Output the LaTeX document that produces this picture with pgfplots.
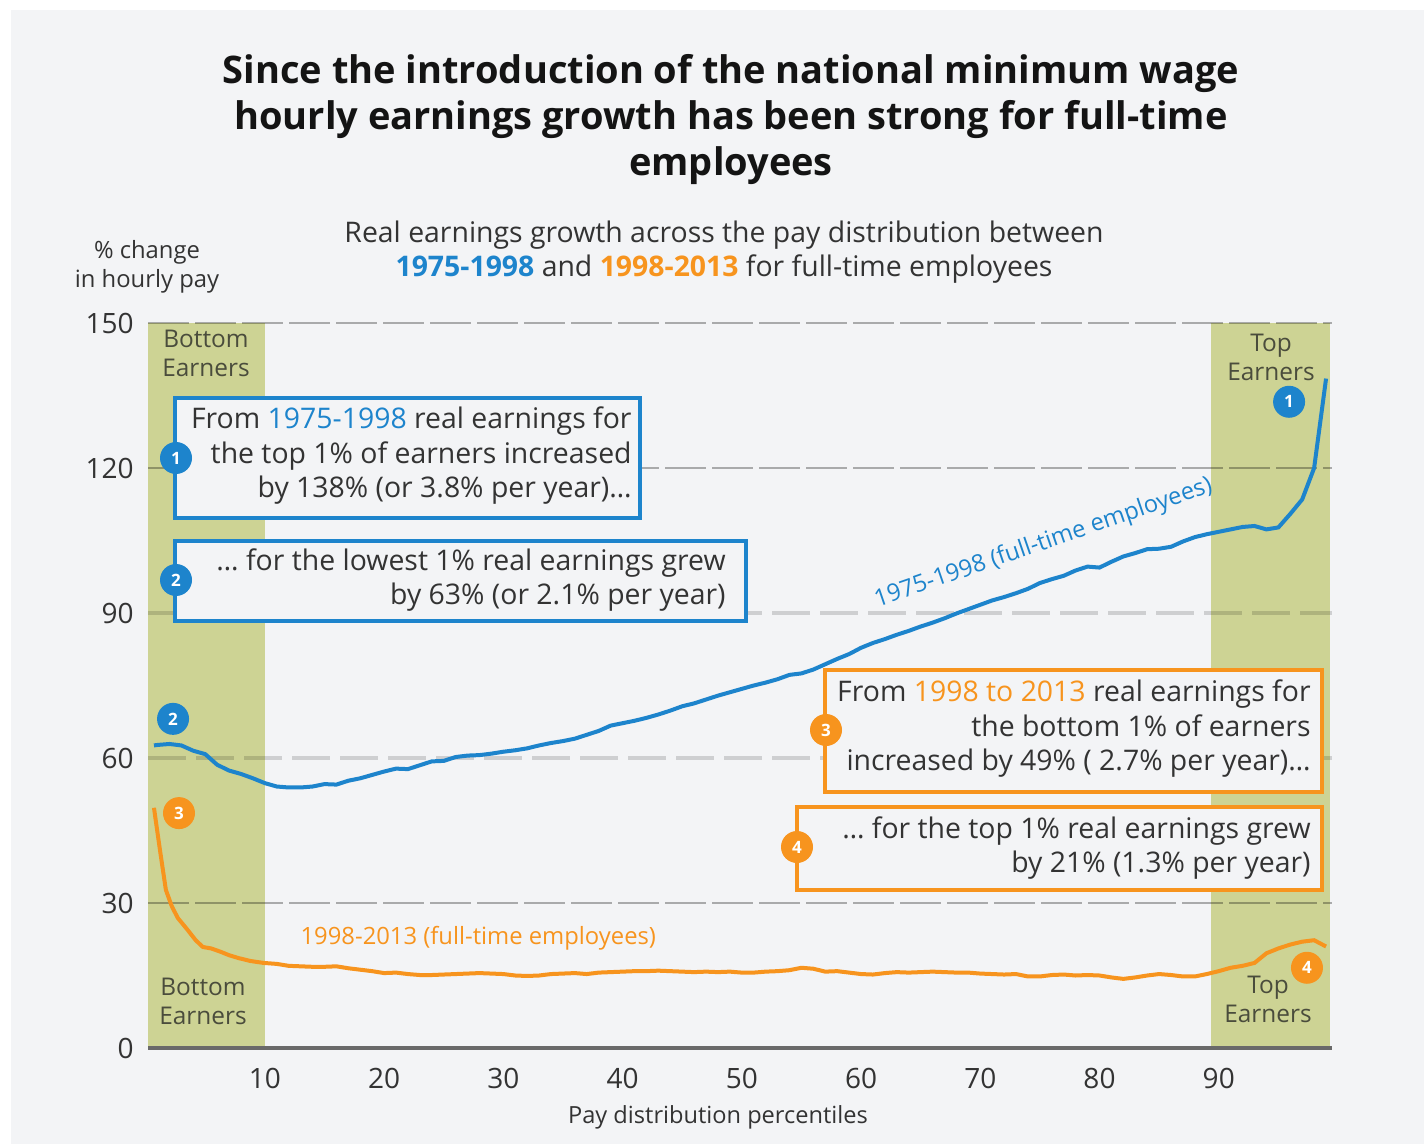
\documentclass[border=0pt]{standalone}
\usepackage{pgfplots}
\pgfplotsset{compat=1.18}
\usepackage{fontspec}
\setmainfont{Open Sans}
\definecolor{bg}{RGB}{243,244,246}
\definecolor{ublue}{RGB}{29,132,204}
\definecolor{uorange}{RGB}{247,148,30}
\definecolor{band}{RGB}{205,211,148}
\definecolor{txt}{RGB}{51,51,51}
\definecolor{bandtxt}{RGB}{74,76,60}
\definecolor{axisgray}{RGB}{105,105,105}
\newcommand{\fsz}[2]{\fontsize{#1}{#2}\selectfont}

\begin{document}
\begin{tikzpicture}[x=0.5pt,y=-0.5pt]
\fill[white] (0,0) rectangle (1424,1144);
\fill[bg] (11,10) rectangle (1424,1144);
% highlighted bands (bottom and top earners)
\fill[band] (148,323) rectangle (265,1048);
\fill[band] (1211,323) rectangle (1330,1048);
\coordinate (A) at (148,1048);
% title
\node[align=center, font=\fsz{19}{23}\bfseries, text=black!92] at (731,120)
  {Since the introduction of the national minimum wage\\hourly earnings growth has been strong for full-time\\employees};
\node[align=center, font=\fsz{14.2}{17}, text=txt] at (724,252)
  {Real earnings growth across the pay distribution between\\{\color{ublue}\bfseries 1975-1998} and {\color{uorange}\bfseries 1998-2013} for full-time employees};
\node[align=center, font=\fsz{11.9}{14.5}, text=txt] at (147,267) {\% change\\in hourly pay};

\begin{axis}[
  at={(A)}, anchor=south west, scale only axis,
  width=592pt, height=362.5pt,
  xmin=0.2, xmax=99.5, ymin=0, ymax=150,
  axis lines=left,
  x axis line style={-, draw=axisgray, line width=2.2pt},
  y axis line style={draw=none},
  xtick={10,20,...,90}, xticklabels={10,20,30,40,50,60,70,80,90},
  ytick={0,30,120,150}, yticklabels={0,30,120,150},
  extra y ticks={60,90}, extra y tick labels={60,90},
  extra y tick style={grid style={draw=black, opacity=0.15, line width=2pt, dash pattern=on 19pt off 5pt}},
  major tick length=0pt,
  /pgf/number format/assume math mode=true,
  tick label style={font=\fsz{14}{16}, text=txt},
  yticklabel style={inner sep=0pt, xshift=-7pt},
  xticklabel style={inner sep=0pt, yshift=-10pt},
  ymajorgrids,
  grid style={draw=black, opacity=0.3, line width=1pt, dash pattern=on 20.5pt off 3pt},
  clip=false,
]
\addplot[ublue, line width=2pt] coordinates {
(0.7,62.6) (1,62.7) (2,62.9) (3,62.6) (4,61.5) (5,60.8) (6,58.6) (7,57.4) (8,56.7) (9,55.8)
(10,54.8) (11,54.1) (12,53.9) (13,53.9) (14,54.1) (15,54.6) (16,54.5) (17,55.3) (18,55.8) (19,56.5)
(20,57.2) (21,57.8) (22,57.7) (23,58.5) (24,59.3) (25,59.4) (26,60.2) (27,60.5) (28,60.6) (29,60.9)
(30,61.3) (31,61.6) (32,62.0) (33,62.6) (34,63.1) (35,63.5) (36,64.0) (37,64.8) (38,65.6) (39,66.7)
(40,67.2) (41,67.7) (42,68.3) (43,69.0) (44,69.8) (45,70.7) (46,71.3) (47,72.1) (48,72.9) (49,73.6)
(50,74.3) (51,75.0) (52,75.6) (53,76.3) (54,77.2) (55,77.5) (56,78.3) (57,79.4) (58,80.5) (59,81.5)
(60,82.8) (61,83.8) (62,84.6) (63,85.5) (64,86.3) (65,87.2) (66,88.0) (67,88.9) (68,89.9) (69,90.8)
(70,91.7) (71,92.6) (72,93.3) (73,94.1) (74,95.0) (75,96.2) (76,97.0) (77,97.7) (78,98.8) (79,99.6)
(80,99.4) (81,100.6) (82,101.7) (83,102.4) (84,103.2) (85,103.3) (86,103.7) (87,104.8) (88,105.7) (89,106.3)
(90,106.8) (91,107.3) (92,107.8) (93,108.0) (94,107.3) (95,107.7) (96,110.5) (97,113.5) (98,120.0) (99,138.5)
};
\addplot[uorange, line width=2pt] coordinates {
(0.7,49.7) (1.2,41.0) (1.7,32.7) (2.2,29.3) (2.7,26.9) (3.5,24.5) (4.2,22.3) (4.8,20.9) (5.5,20.6) (6.3,19.9)
(7,19.2) (7.8,18.6) (8.8,18.0) (9.9,17.6) (11,17.4) (12,17.0) (13,16.9) (14,16.8) (15,16.8) (16,16.9)
(17,16.5) (18,16.2) (19,15.9) (20,15.5) (21,15.6) (22,15.3) (23,15.1) (24,15.1) (25,15.2) (26,15.3)
(27,15.4) (28,15.5) (29,15.4) (30,15.3) (31,15.0) (32,14.9) (33,15.0) (34,15.3) (35,15.4) (36,15.5)
(37,15.3) (38,15.6) (39,15.7) (40,15.8) (41,15.9) (42,15.9) (43,16.0) (44,15.9) (45,15.8) (46,15.7)
(47,15.8) (48,15.7) (49,15.8) (50,15.6) (51,15.6) (52,15.8) (53,15.9) (54,16.1) (55,16.6) (56,16.4)
(57,15.8) (58,15.9) (59,15.6) (60,15.3) (61,15.2) (62,15.5) (63,15.7) (64,15.6) (65,15.7) (66,15.8)
(67,15.7) (68,15.6) (69,15.6) (70,15.4) (71,15.3) (72,15.2) (73,15.3) (74,14.8) (75,14.8) (76,15.1)
(77,15.2) (78,15.0) (79,15.1) (80,15.0) (81,14.6) (82,14.3) (83,14.6) (84,15.0) (85,15.3) (86,15.1)
(87,14.8) (88,14.8) (89,15.3) (90,15.9) (91,16.6) (92,17.0) (93,17.6) (94,19.6) (95,20.6) (96,21.4)
(97,22.0) (98,22.3) (99,21.0)
};
\node[rotate=19, text=ublue, font=\fsz{11.9}{14}] at (axis cs:75.3,104.4) {1975-1998 (full-time employees)};
\node[text=uorange, font=\fsz{11.9}{14}] at (axis cs:27.9,22.8) {1998-2013 (full-time employees)};
\tikzset{num/.style={circle, fill=#1, text=white, minimum size=16pt, inner sep=0pt, font=\fsz{8.5}{9}\bfseries}}
\node[num=ublue] at (axis cs:95.9,133.7) {1};
\node[num=ublue] at (axis cs:2.3,68.1) {2};
\node[num=uorange] at (axis cs:2.8,48.6) {3};
\node[num=uorange] at (axis cs:97.4,16.6) {4};
\end{axis}

\tikzset{num/.style={circle, fill=#1, text=white, minimum size=16pt, inner sep=0pt, font=\fsz{8.5}{9}\bfseries}}
% band labels
\node[align=center, font=\fsz{12.2}{14.5}, text=bandtxt] at (206,353) {Bottom\\Earners};
\node[align=center, font=\fsz{12.2}{14.5}, text=bandtxt] at (203,1001) {Bottom\\Earners};
\node[align=center, font=\fsz{12.2}{14.5}, text=bandtxt] at (1271,357) {Top\\Earners};
\node[align=center, font=\fsz{12.2}{14.5}, text=bandtxt] at (1268,999) {Top\\Earners};
% x label
\node[font=\fsz{11.8}{13}, text=txt] at (718,1117) {Pay distribution percentiles};

% boxes
\draw[ublue, line width=2pt, fill=bg] (175,398) rectangle (640,518);
\node[anchor=east, align=right, font=\fsz{14.2}{17.25}, text=txt, inner sep=0pt] at (632,456)
  {From {\color{ublue}1975-1998} real earnings for\\the top 1\% of earners increased\\by 138\% (or 3.8\% per year)…};
\node[num=ublue] at (176,458) {1};

\draw[ublue, line width=2pt, fill=bg] (175,541) rectangle (746,621);
\node[anchor=east, align=right, font=\fsz{14.2}{17.25}, text=txt, inner sep=0pt] at (726,580)
  {… for the lowest 1\% real earnings grew\\by 63\% (or 2.1\% per year)};
\node[num=ublue] at (176,580) {2};

\draw[uorange, line width=2pt, fill=bg] (825,670) rectangle (1322,792);
\node[anchor=east, align=right, font=\fsz{14.2}{17.25}, text=txt, inner sep=0pt] at (1311,729)
  {From {\color{uorange}1998 to 2013} real earnings for\\the bottom 1\% of earners\\increased by 49\% ( 2.7\% per year)…};
\node[num=uorange] at (826,730) {3};

\draw[uorange, line width=2pt, fill=bg] (797,807) rectangle (1322,890);
\node[anchor=east, align=right, font=\fsz{14.2}{17.25}, text=txt, inner sep=0pt] at (1311,848)
  {… for the top 1\% real earnings grew\\by 21\% (1.3\% per year)};
\node[num=uorange] at (797,847) {4};
\end{tikzpicture}
\end{document}
